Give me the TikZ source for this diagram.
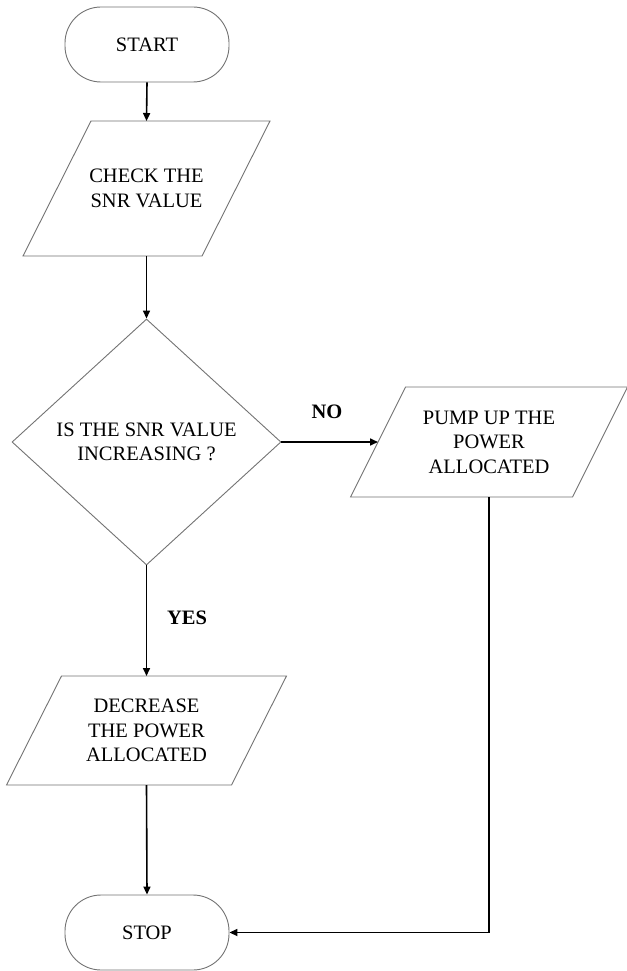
\documentclass[tikz,border=0pt]{standalone}
\usepackage{fontspec}
\setmainfont{Liberation Serif}
\newfontfamily\flowfont{Liberation Serif}
\usetikzlibrary{shapes.geometric,arrows.meta}

% \iobox{name}{centre x}{centre y}{edge width}{height}{slant}{text}
% draws an input/output parallelogram and names its edge midpoints
% name-n (top), name-s (bottom) and name-w (left side)
\newcommand{\iobox}[7]{%
  \path[outline] ({#2-#4/2-#6/2+#6},{#3-#5/2}) -- ++(#4,0) -- ++(-#6,#5) -- ++(-#4,0) -- cycle;
  \node (#1) at (#2,#3) {#7};
  \coordinate (#1-n) at (#2,{#3-#5/2});
  \coordinate (#1-s) at (#2,{#3+#5/2});
  \coordinate (#1-w) at ({#2-#4/2},#3);
}

\begin{document}
\begin{tikzpicture}[x=1pt,y=-1pt,
  every node/.style={font=\flowfont\fontsize{20.5}{24.5}\selectfont, align=center, text=black},
  outline/.style={draw=black!55, line width=0.9pt, fill=white},
  terminal/.style={outline, rectangle, rounded corners=36pt, minimum width=164pt, minimum height=75pt, inner sep=0pt},
  decision/.style={outline, diamond, inner sep=0pt, minimum width=269pt, minimum height=246pt, aspect=1.09},
  flow/.style={draw=black, line width=1.6pt, -{Triangle[length=8pt,width=7pt]}},
  branch/.style={font=\flowfont\fontsize{20.5}{24.5}\selectfont\bfseries}
]
\useasboundingbox (0,0) rectangle (626,971);

% process nodes
\node[terminal] (start) at (147,44.5) {START};
\iobox{check}{146.5}{188.5}{179}{135}{68}{CHECK THE\\SNR VALUE}
\node[decision] (test) at (146.5,442) {IS THE SNR VALUE\\INCREASING ?};
\iobox{pump}{489}{442}{222}{110}{55}{PUMP UP THE\\POWER\\ALLOCATED}
\iobox{decr}{146.5}{730.5}{225}{109}{55}{DECREASE\\THE POWER\\ALLOCATED}
\node[terminal] (stop) at (147,932.5) {STOP};

% branch labels
\node[branch] (no) at (327,412) {NO};
\node[branch] (yes) at (187,618) {YES};

% connectors
\draw[flow] (start.south) -- (check-n);
\draw[flow] (check-s) -- (test.north);
\draw[flow] (test.east) -- (pump-w);
\draw[flow] (test.south) -- (decr-n);
\draw[flow] (decr-s) -- (stop.north);
\coordinate (corner) at (pump-s |- stop.east);
\draw[flow] (pump-s) -- (corner) -- (stop.east);
\end{tikzpicture}
\end{document}
